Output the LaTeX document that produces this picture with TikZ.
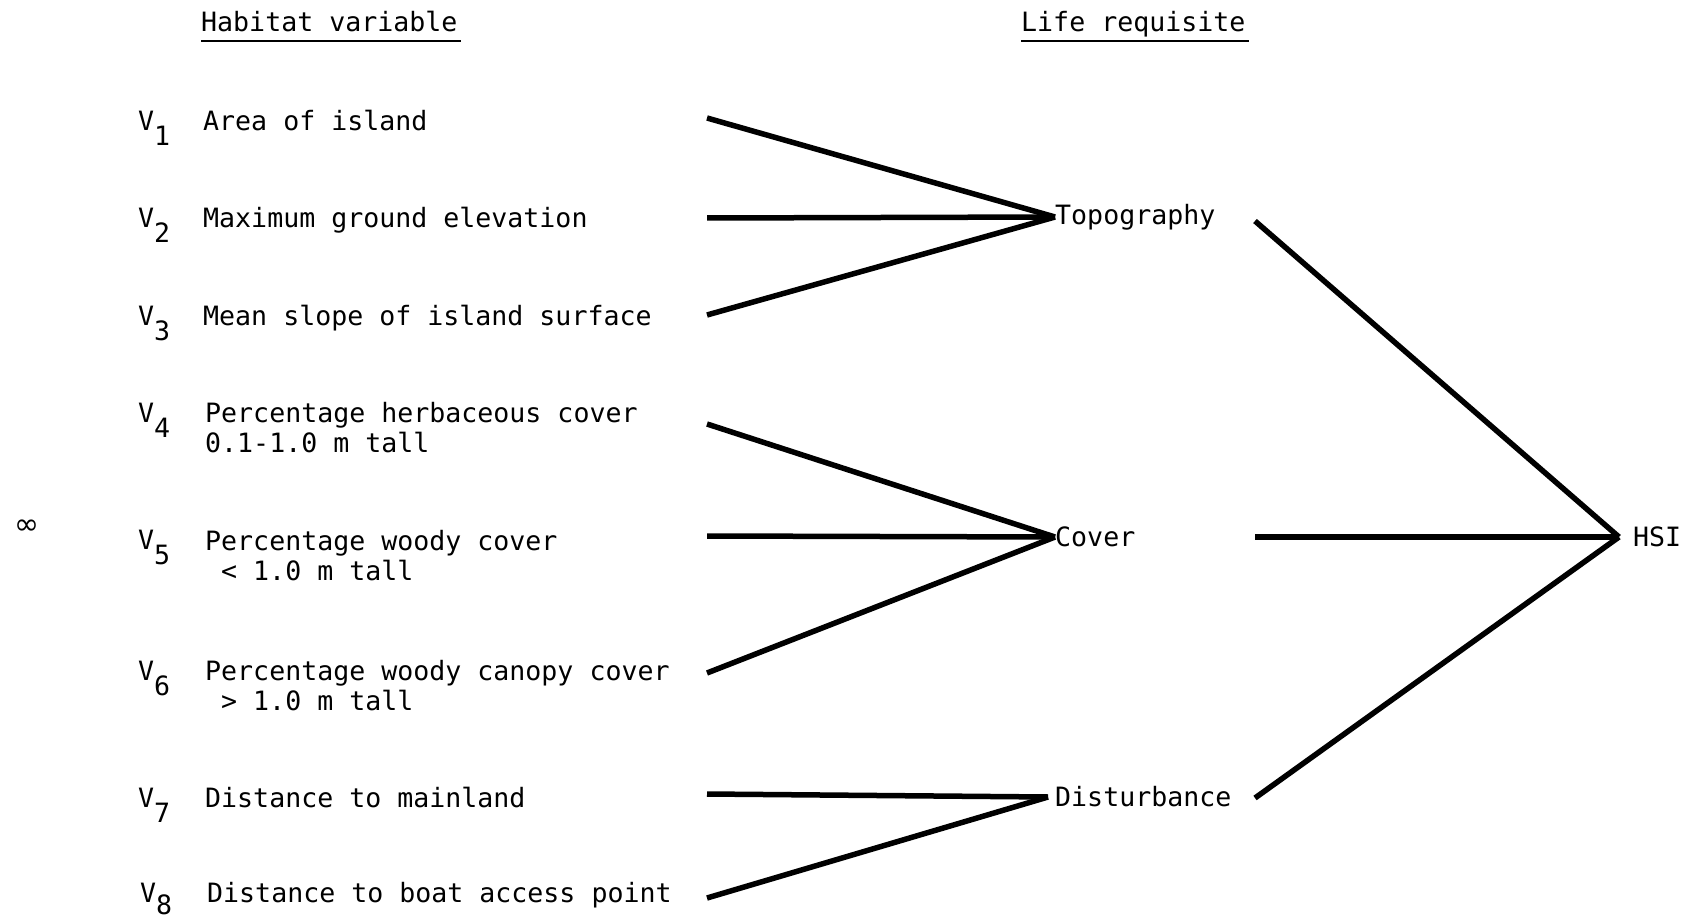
\documentclass[tikz,border=0pt]{standalone}
\usepackage{fontspec}
\setmainfont{DejaVu Sans Mono}
\newfontfamily\symfont{DejaVu Sans}
\begin{document}
\begin{tikzpicture}[x=1pt,y=-1pt,
  txt/.style={font=\fontsize{26.6}{30}\selectfont, inner sep=0pt, anchor=base west, align=left},
  vlab/.style={font=\fontsize{26.6}{30}\selectfont, inner sep=0pt, anchor=base west},
  conn/.style={line width=5.5pt, line cap=butt, line join=miter}]
\useasboundingbox (0,0) rectangle (1692,920);
\newcommand{\vsub}[2][-15pt]{V\raisebox{#1}{#2}}
% headers
\node[txt] (hv) at (201,32) {Habitat variable};
\node[txt] (lr) at (1021,32) {Life requisite};
\draw[line width=2pt] ([yshift=-9pt]hv.base west) -- ([yshift=-9pt,xshift=3pt]hv.base east);
\draw[line width=2pt] ([yshift=-9pt]lr.base west) -- ([yshift=-9pt,xshift=3pt]lr.base east);
% page mark
\node[inner sep=0pt, font=\symfont\fontsize{30}{30}\selectfont] (pg) at (27,527) {∞};
% variable labels
\node[vlab] (l1) at (138,131) {\vsub{1}};
\node[vlab] (l2) at (138,228) {\vsub{2}};
\node[vlab] (l3) at (138,325) {\vsub{3}};
\node[vlab] (l4) at (138,422) {\vsub{4}};
\node[vlab] (l5) at (138,549) {\vsub{5}};
\node[vlab] (l6) at (138,680) {\vsub{6}};
\node[vlab] (l7) at (138,807) {\vsub{7}};
\node[vlab] (l8) at (140,902) {\vsub[-12pt]{8}};
\node[txt] (t1) at (203,131) {Area of island};
\node[txt] (t2) at (203,228) {Maximum ground elevation};
\node[txt] (t3) at (203,325) {Mean slope of island surface};
\node[txt] (t4) at (205,452) {Percentage herbaceous cover\\0.1-1.0 m tall};
\node[txt] (t5) at (205,580) {Percentage woody cover\\\hspace*{16pt}< 1.0 m tall};
\node[txt] (t6) at (205,710) {Percentage woody canopy cover\\\hspace*{16pt}> 1.0 m tall};
\node[txt] (t7) at (205,807) {Distance to mainland};
\node[txt] (t8) at (207,902) {Distance to boat access point};
% requisites
\node[txt, anchor=west] (topo) at (1055,217) {Topography};
\node[txt, anchor=west] (cov) at (1055,537) {Cover};
\node[txt, anchor=west] (dist) at (1055,797) {Disturbance};
\node[txt, anchor=west, inner xsep=14pt] (hsi) at (1619,537) {HSI};
% connector ends
\coordinate (e1) at (707,118);
\coordinate (e2) at (707,218);
\coordinate (e3) at (707,315);
\coordinate (e4) at (707,424);
\coordinate (e5) at (707,536);
\coordinate (e6) at (707,673);
\coordinate (e7) at (707,794);
\coordinate (e8) at (707,898);
\coordinate (rt) at (1255,221);
\coordinate (rc) at (1255,537);
\coordinate (rd) at (1255,798);
% connectors
\draw[conn] (e1) -- (topo.west);
\draw[conn] (e2) -- (topo.west);
\draw[conn] (e3) -- (topo.west);
\draw[conn] (e4) -- (cov.west);
\draw[conn] (e5) -- (cov.west);
\draw[conn] (e6) -- (cov.west);
\draw[conn] (e7) -- ([xshift=-7pt]dist.west);
\draw[conn] (e8) -- ([xshift=-7pt]dist.west);
\draw[conn] (rt) -- (hsi.west);
\draw[conn] (rc) -- (hsi.west);
\draw[conn] (rd) -- (hsi.west);
\end{tikzpicture}
\end{document}
